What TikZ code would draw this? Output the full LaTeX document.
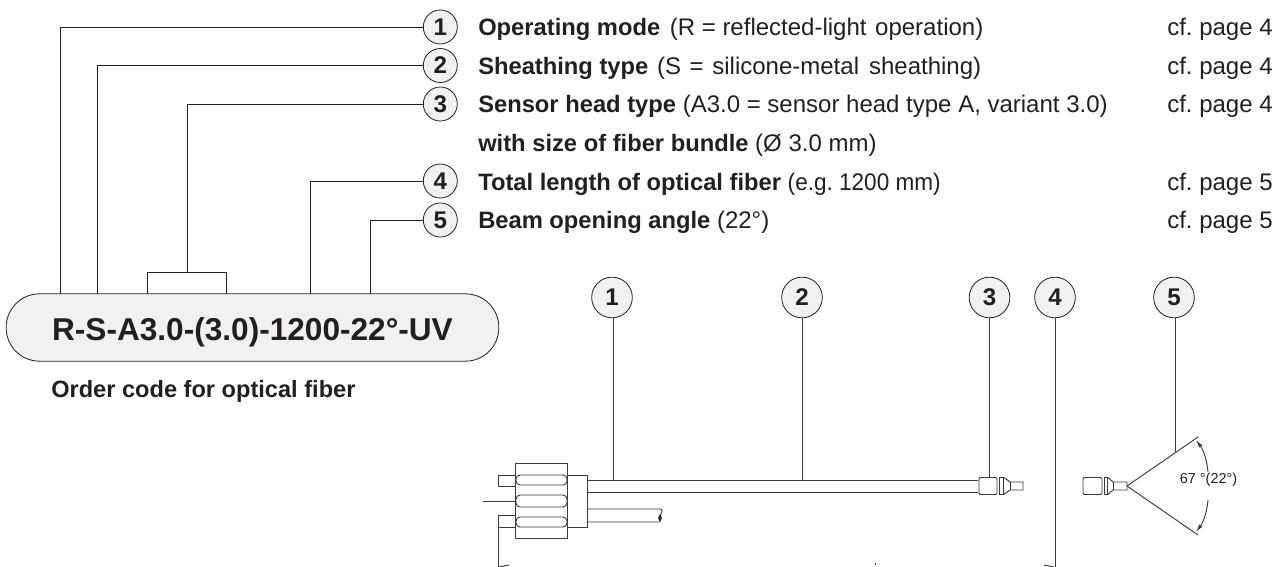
\documentclass[tikz,border=0pt]{standalone}
\usepackage{xcolor}
\usepackage{fontspec}
\setmainfont{Liberation Sans}
\frenchspacing
\usetikzlibrary{arrows.meta, positioning, calc}
\definecolor{codeink}{HTML}{231F20}
\definecolor{badgebg}{HTML}{F1F1F1}
\definecolor{partline}{HTML}{3C3A3B}
\newcommand{\rowhead}[1]{{\fontsize{17.8}{20}\selectfont\bfseries #1}}
\tikzset{
  badge/.style={circle, draw=codeink, fill=badgebg, inner sep=0pt, minimum size=25.5pt, font=\fontsize{18.1}{20}\selectfont\bfseries, text=codeink, line width=0.6pt},
  bigbadge/.style={badge, minimum size=30.5pt},
  rowtext/.style={anchor=base west, inner sep=0pt, font=\fontsize{18}{20}\selectfont, text=codeink},
  lead/.style={draw=codeink, line width=0.6pt},
  part/.style={draw=partline, line width=0.7pt},
  slot/.style={part, rounded corners=3pt}
}
\begin{document}
\begin{tikzpicture}[x=0.75pt, y=-0.75pt]
\useasboundingbox (0,0) rectangle (1285,567);
\node[badge] (b1) at (440.3,27) {1};
\node[badge] (b2) at (440.3,65.5) {2};
\node[badge] (b3) at (440.3,104) {3};
\node[badge] (b4) at (440.3,181) {4};
\node[badge] (b5) at (440.3,220) {5};
\node[rowtext] (r1) at (478,36) {\rowhead{Operating mode}\hspace{2.2pt} (R = reflected-light\hspace{1.5pt} operation)};
\node[rowtext] (r2) at (478,74.5) {\rowhead{Sheathing type}\hspace{1.5pt} (S\hspace{1.5pt} =\hspace{1.5pt} silicone-metal\hspace{2.5pt} sheathing)};
\node[rowtext] (r3) at (478,113) {\rowhead{Sensor head type} (A3.0 = sensor head type A, variant 3.0)};
\node[rowtext] (r3b) at (478,151.5) {\rowhead{with size of fiber bundle} (Ø 3.0 mm)};
\node[rowtext] (r4) at (478,190.5) {\rowhead{Total length of optical fiber} \scalebox{.94}[1]{(e.g. 1200 mm)}};
\node[rowtext] (r5) at (478,228.5) {\rowhead{Beam opening angle} (22°)};
\node[rowtext] (p1) at (1167,36) {cf. page 4};
\node[rowtext] (p2) at (1167,74.5) {cf. page 4};
\node[rowtext] (p3) at (1167,113) {cf. page 4};
\node[rowtext] (p4) at (1167,190.5) {cf. page 5};
\node[rowtext] (p5) at (1167,228.5) {cf. page 5};
\node[draw=codeink, fill=badgebg, rounded corners=25pt, line width=0.6pt, minimum width=369.5pt, minimum height=50.5pt, inner sep=0pt, text height=19.2pt, text depth=0pt, font=\fontsize{23.7}{28}\selectfont\bfseries, text=codeink] (pill) at (252.5,327.5) {R-S-A3.0-(3.0)-1200-22°-UV};
\node[rowtext, font=\fontsize{17.7}{20}\selectfont\bfseries] (cap) at (51,397) {Order code for optical fiber};
\coordinate (t1) at (60,294);
\coordinate (t2) at (97,294);
\coordinate (t3) at (187,272.5);
\coordinate (t4) at (310,294);
\coordinate (t5) at (370,294);
\draw[lead] (b1.west) -| (t1);
\draw[lead] (b2.west) -| (t2);
\draw[lead] (b3.west) -| (t3);
\draw[lead] (b4.west) -| (t4);
\draw[lead] (b5.west) -| (t5);
\draw[lead] (147.5,294) |- (t3) -| (226,294);
\node[bigbadge] (d1) at (612,297.5) {1};
\node[bigbadge] (d2) at (802,297.5) {2};
\node[bigbadge] (d3) at (989.5,297.5) {3};
\node[bigbadge] (d4) at (1055,297.5) {4};
\node[bigbadge] (d5) at (1174,297.5) {5};
\coordinate (e1) at (613,480);
\coordinate (e2) at (802,480);
\coordinate (e3) at (989,477);
\coordinate (e4) at (1055,567);
\coordinate (e5) at (1175,453);
\draw[part] (e1|-d1.south) -- (e1);
\draw[part] (e2|-d2.south) -- (e2);
\draw[part] (e3|-d3.south) -- (e3);
\draw[part] (e4|-d4.south) -- (e4);
\draw[part] (e5|-d5.south) -- (e5);
\draw[part] (515.5,463) rectangle (567,538);
\draw[part] (567,475) -- (587,475) -- (587,527) -- (567,527);
\draw[slot] (516,475) rectangle (567,485);
\draw[slot] (516,495) rectangle (567,507);
\draw[slot] (516,517) rectangle (567,527);
\draw[part] (515.5,475) -- (498,475) -- (498,486) -- (515.5,486);
\draw[part] (483,501) -- (515.5,501);
\draw[part] (498,567) -- (498,515.5) -- (515.5,515.5);
\draw[part] (498,527) -- (515.5,527);
\draw[part] (587,480) -- (978,480);
\draw[part] (587,492) -- (978,492);
\draw[part] (587,509) -- (661,509) .. controls (664,512) and (660,514) .. (660,516) .. controls (659,519) and (661,520) .. (660,522) -- (587,522);
\fill[codeink] (660,518) ellipse (1.7 and 3.2);
\draw[part, rounded corners=1pt] (979,477.5) rectangle (997,494.5);
\draw[part] (999,477.5) -- (999,494.5) (1003,477.5) -- (1003,494.5);
\draw[part] (999,477.5) -- (1004,477.5) -- (1010,482) -- (1023,482) -- (1023,490) -- (1010,490) -- (1004,494.5) -- (999,494.5);
\draw[part] (1010,482) -- (1010,490);
\draw[part, rounded corners=1pt] (1083,477.5) rectangle (1102,494.5);
\draw[part] (1104,477.5) -- (1104,494.5) (1107,477.5) -- (1107,494.5);
\draw[part] (1104,477.5) -- (1108,477.5) -- (1113,482) -- (1127,482) -- (1127,490) -- (1113,490) -- (1108,494.5) -- (1104,494.5);
\draw[part] (1113,482) -- (1113,490);
\coordinate (apex) at (1127,486);
\draw[part] (apex) -- (1198,437);
\draw[part] (apex) -- (1198,535);
\draw[part, {Latex[length=6pt,width=3pt]}-] (1196,440) .. controls (1204,451) and (1207,461) .. (1208,472);
\draw[part, {Latex[length=6pt,width=3pt]}-] (1196,532) .. controls (1204,521) and (1207,511) .. (1208,500);
\node[inner sep=0pt, font=\fontsize{10.8}{12}\selectfont, text=codeink] (ang) at (1208.5,480) {67 °(22°)};
\draw[part] (509,565) -- (499,567);
\draw[part] (1044,565) -- (1054,567);
\draw[part] (875,563) -- (875,565);
\end{tikzpicture}
\end{document}
